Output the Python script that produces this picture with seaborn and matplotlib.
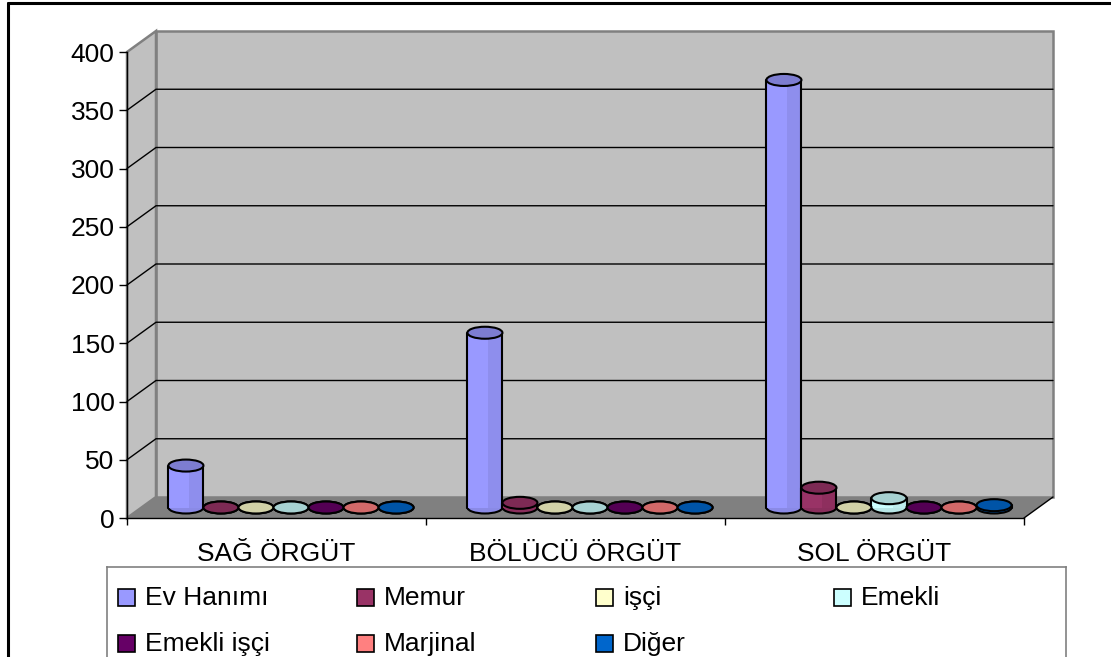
import numpy as np
import pandas as pd
import matplotlib.pyplot as plt
import seaborn as sns

from matplotlib.patches import Rectangle, Ellipse, Polygon
from matplotlib.lines import Line2D
from matplotlib.transforms import ScaledTranslation
from matplotlib.colors import to_rgb


categories = ["SAĞ ÖRGÜT", "BÖLÜCÜ ÖRGÜT", "SOL ÖRGÜT"]
series = ["Ev Hanımı", "Memur", "işçi", "Emekli", "Emekli işçi", "Marjinal", "Diğer"]

ev_hanimi = [36, 150, 367]
memur = [0, 4, 17]
isci = [0, 0, 0]
emekli = [0, 0, 8]
emekli_isci = [0, 0, 0]
marjinal = [0, 0, 0]
diger = [0, 0, 2]

colors = ["#9999FF", "#993366", "#FFFFCC", "#CCFFFF", "#660066", "#FF8080", "#0066CC"]
y_ticks = [0, 50, 100, 150, 200, 250, 300, 350, 400]

W, H = 1111, 657
DEPTH = (29, 21)   # back wall offset in pixels
ELL_PX = 12        # height of cylinder caps in pixels
FS = 19


def darker(c, f):
    return tuple(v * f for v in to_rgb(c))


def main():
    sns.set_style("white")
    plt.rcParams["font.family"] = ["Liberation Sans", "DejaVu Sans"]

    values = [ev_hanimi, memur, isci, emekli, emekli_isci, marjinal, diger]
    df = pd.DataFrame(
        [(cat, s, v[i]) for s, v in zip(series, values) for i, cat in enumerate(categories)],
        columns=["category", "series", "value"]
    )

    fig = plt.figure(figsize=(W / 100, H / 100), dpi=100)
    fig.patch.set_facecolor("white")

    ax = fig.add_axes([127 / W, 1 - 518 / H, 897 / W, 466 / H])
    ax.set_xlim(-0.5, 2.5)
    ax.set_ylim(0, 400)
    ax.patch.set_visible(False)

    ax_w = ax.get_position().width * W
    ax_h = ax.get_position().height * H
    dx, dy = DEPTH[0] / ax_w, DEPTH[1] / ax_h
    px_per_unit = ax_h / 400

    # walls and floor
    wall_kw = dict(transform=ax.transAxes, clip_on=False)
    ax.add_patch(Rectangle((dx, dy), 1, 1, fc="#C0C0C0", ec="#808080", lw=1.8, zorder=0.1, **wall_kw))
    ax.add_patch(Polygon([(0, 0), (0, 1), (dx, 1 + dy), (dx, dy)],
                         fc="#C0C0C0", ec="#808080", lw=1.8, zorder=0.2, **wall_kw))
    ax.add_patch(Polygon([(0, 0), (1, 0), (1 + dx, dy), (dx, dy)],
                         fc="#808080", ec="none", zorder=0.3, **wall_kw))

    for t in y_ticks[1:-1]:
        yy = t / 400
        ax.add_line(Line2D([0, dx, 1 + dx], [yy, yy + dy, yy + dy],
                           color="black", lw=1, zorder=0.5, **wall_kw))

    ax.add_line(Line2D([1, 1 + dx], [0, dy], color="black", lw=1, zorder=0.5, **wall_kw))

    sns.barplot(
        data=df,
        x="category",
        y="value",
        hue="series",
        order=categories,
        hue_order=series,
        palette=colors,
        saturation=1,
        width=0.82,
        linewidth=0,
        legend=False,
        ax=ax
    )

    # turn flat bars into cylinders sitting in the middle of the floor depth
    mid = ax.transData + ScaledTranslation(DEPTH[0] / 200, DEPTH[1] / 200, fig.dpi_scale_trans)
    eh = ELL_PX / px_per_unit
    for cont, color in zip(ax.containers, colors):
        for rect in cont:
            x0, w, h = rect.get_x(), rect.get_width(), rect.get_height()
            cx = x0 + w / 2
            rect.set_transform(mid)
            rect.set_clip_on(False)
            rect.set_zorder(3)

            ax.add_patch(Ellipse((cx, 0), w, eh, fc=darker(color, 0.9), ec="black",
                                 lw=1.5, transform=mid, zorder=2.9, clip_on=False))
            ax.add_patch(Rectangle((x0 + w * 0.6, 0), w * 0.4, h, fc="black", alpha=0.07,
                                   lw=0, transform=mid, zorder=3.1, clip_on=False))
            for xe in (x0, x0 + w):
                ax.add_line(Line2D([xe, xe], [0, h], color="black", lw=1.5,
                                   transform=mid, zorder=3.15, clip_on=False))
            ax.add_patch(Ellipse((cx, h), w, eh, fc=darker(color, 0.82), ec="black",
                                 lw=1.5, transform=mid, zorder=3.2, clip_on=False))

    ax.set_xlabel("")
    ax.set_ylabel("")
    ax.set_yticks(y_ticks)
    ax.set_xticks(range(len(categories)), categories)
    ax.set_xticks([-0.5, 0.5, 1.5, 2.5], minor=True)

    ax.tick_params(axis="y", length=6, width=1, pad=3, labelsize=FS, colors="black", left=True)
    ax.tick_params(axis="x", which="major", length=0, pad=17, labelsize=FS, colors="black")
    ax.tick_params(axis="x", which="minor", length=5, width=1, colors="black", bottom=True)

    for side in ["top", "right"]:
        ax.spines[side].set_visible(False)
    for side in ["left", "bottom"]:
        ax.spines[side].set_color("black")
        ax.spines[side].set_linewidth(1)

    # legend box
    lax = fig.add_axes([107 / W, 0, (1066 - 107) / W, (657 - 567) / H])
    lax.set_xlim(0, 959)
    lax.set_ylim(90, 0)
    lax.set_xticks([])
    lax.set_yticks([])
    lax.spines["bottom"].set_visible(False)
    for side in ["top", "left", "right"]:
        lax.spines[side].set_color("#808080")
        lax.spines[side].set_linewidth(1.2)

    col_x = [11, 250, 489, 727]
    row_y = [31, 77]
    for i, (name, color) in enumerate(zip(series, colors)):
        x = col_x[i % 4]
        y = row_y[i // 4]
        lax.add_patch(Rectangle((x, y - 9), 17, 17, fc=color, ec="black", lw=1.2))
        lax.text(x + 27, y, name, fontsize=FS, va="center", ha="left", color="black")

    # outer frame
    fig.add_artist(Line2D([8 / W, 8 / W], [0, 1 - 3 / H], transform=fig.transFigure,
                          color="black", lw=2.2))
    fig.add_artist(Line2D([8 / W, 1], [1 - 3 / H, 1 - 3 / H], transform=fig.transFigure,
                          color="black", lw=2.2))

    fig.savefig("out.png", dpi=100)
    plt.close(fig)


if __name__ == "__main__":
    main()
